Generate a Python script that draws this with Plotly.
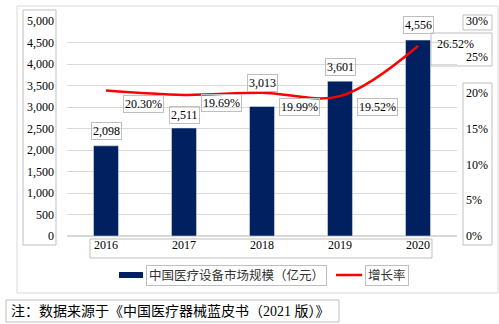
import plotly.graph_objects as go

years = [2016, 2017, 2018, 2019, 2020]
market = [2098, 2511, 3013, 3601, 4556]
growth = [20.30, 19.69, 19.99, 19.52, 26.52]
bar_name = "中国医疗设备市场规模（亿元）"
line_name = "增长率"
note = "注：数据来源于《中国医疗器械蓝皮书（2021 版）》"
left_ticks = list(range(0, 5001, 500))
right_ticks = list(range(0, 31, 5))

# style: label offsets (pixels)
bar_label_yshift = [15, 13, 23, 14, 15]
line_label_yshift = [-13, -8, -14, -11, 2]
line_label_border = [1, 1, 1, 1, 0]

W, H = 499, 324
L, R, T, B = 67, 457, 21, 236
FONT = "Liberation Serif, Noto Sans CJK SC, serif"
NAVY = "#002060"
RED = "#FF0000"
BOX = "#BFBFBF"

def to_px(x):
    return (x - L) / (R - L)

def to_py(y):
    return (B - y) / (B - T)

fig = go.Figure()
fig.add_trace(go.Bar(x=years, y=market, name=bar_name, marker_color=NAVY,
                     width=0.32, showlegend=False))
fig.add_trace(go.Scatter(x=years, y=growth, name=line_name, yaxis="y2",
                         mode="lines", line=dict(color=RED, width=2.5, shape="spline", smoothing=1.0),
                         showlegend=False))

ann = []
for i, (yr, v) in enumerate(zip(years, market)):
    ann.append(dict(x=yr, y=v, xref="x", yref="y", text=f"{v:,}", showarrow=False,
                    yanchor="middle", yshift=bar_label_yshift[i],
                    font=dict(family=FONT, size=12, color="#000"),
                    bordercolor=BOX, borderwidth=1, borderpad=1))
for i, (yr, g) in enumerate(zip(years, growth)):
    ann.append(dict(x=yr, y=g, xref="x", yref="y2", text=f"{g:.2f}%", showarrow=False,
                    yanchor="middle", xshift=37, yshift=line_label_yshift[i],
                    font=dict(family=FONT, size=12, color="#000"),
                    bordercolor=BOX, borderwidth=line_label_border[i], borderpad=1))

# legend (manual)
ann.append(dict(x=to_px(146), y=to_py(275), xref="paper", yref="paper", text=bar_name, showarrow=False,
                xanchor="left", yanchor="middle", font=dict(family=FONT, size=12.5, color="#333"),
                bordercolor=BOX, borderwidth=1, borderpad=2))
ann.append(dict(x=to_px(365), y=to_py(275), xref="paper", yref="paper", text=line_name, showarrow=False,
                xanchor="left", yanchor="middle", font=dict(family=FONT, size=12.5, color="#333"),
                bordercolor=BOX, borderwidth=1, borderpad=2))
# footnote
ann.append(dict(x=to_px(9), y=to_py(311), xref="paper", yref="paper", text=note, showarrow=False,
                xanchor="left", yanchor="middle", font=dict(family=FONT, size=14, color="#000")))

shapes = []
def rect(x0, y0, x1, y1, color=BOX):
    shapes.append(dict(type="rect", xref="paper", yref="paper", x0=to_px(x0), x1=to_px(x1),
                       y0=to_py(y0), y1=to_py(y1), line=dict(color=color, width=1)))

rect(17, 6, 498, 293, color="#D9D9D9")          # chart border
rect(23, 10, 56, 245)                           # left tick box
rect(90, 239, 432, 258)                         # x tick box
rect(463, 15, 492, 30)                          # 30% box
rect(431, 33, 492, 66)                          # 26.52% / 25% box
rect(463, 83, 492, 245)                         # 20%-0% box
rect(6, 300, 339, 322)                          # footnote box
shapes.append(dict(type="rect", xref="paper", yref="paper", x0=to_px(119), x1=to_px(143),
                   y0=to_py(272), y1=to_py(278), line=dict(width=0), fillcolor=NAVY))
shapes.append(dict(type="line", xref="paper", yref="paper", x0=to_px(336), x1=to_px(362),
                   y0=to_py(275), y1=to_py(275), line=dict(color=RED, width=2.5)))

fig.update_layout(
    width=W, height=H,
    margin=dict(l=L, r=W - R, t=T, b=H - B),
    paper_bgcolor="white", plot_bgcolor="white",
    font=dict(family=FONT, size=12, color="#000"),
    xaxis=dict(range=[2015.5, 2020.5], tickvals=years, ticktext=[str(y) for y in years],
               showgrid=False, showline=False, zeroline=False, ticks="",
               tickfont=dict(family=FONT, size=12, color="#000")),
    yaxis=dict(range=[0, 5000], tickvals=left_ticks, ticktext=[f"{v:,}" for v in left_ticks],
               showgrid=True, gridcolor="#D9D9D9", gridwidth=1, zeroline=True,
               zerolinecolor="#D9D9D9", showline=False, ticks="", ticklabelstandoff=12,
               tickfont=dict(family=FONT, size=12, color="#000")),
    yaxis2=dict(range=[0, 30], tickvals=right_ticks, ticktext=[f"{v}%" for v in right_ticks],
                overlaying="y", side="right", showgrid=False, zeroline=False, showline=False,
                ticks="", ticklabelstandoff=8, tickfont=dict(family=FONT, size=12, color="#000")),
    annotations=ann, shapes=shapes,
)

fig.write_html("out.html")
